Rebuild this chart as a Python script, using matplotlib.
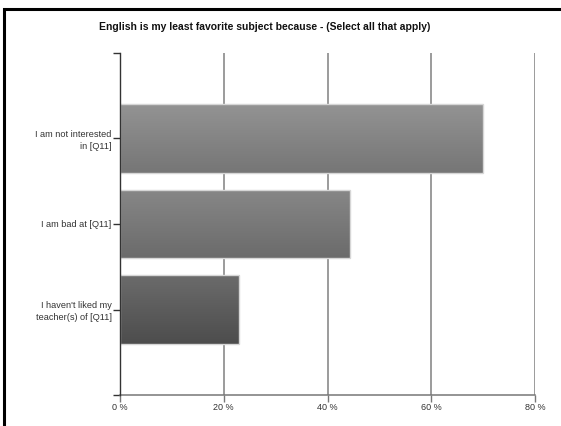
import numpy as np
import matplotlib
matplotlib.use("Agg")
import matplotlib.pyplot as plt
from matplotlib.patches import Rectangle
from matplotlib.colors import LinearSegmentedColormap

plt.rcParams['font.family'] = ['Liberation Sans', 'DejaVu Sans']

# Survey responses (percent of respondents)
categories = ["I am not interested\nin [Q11]",
              "I am bad at [Q11]",
              "I haven't liked my\nteacher(s) of [Q11]"]
values = [69.9, 44.3, 23.0]
# top / bottom shade of each bar's vertical gradient
bar_shades = [("#939393", "#767676"),
              ("#878787", "#6b6b6b"),
              ("#6b6b6b", "#4d4d4d")]
xticks = [0, 20, 40, 60, 80]
xticklabels = ["0 %", "20 %", "40 %", "60 %", "80 %"]
title = "English is my least favorite subject because - (Select all that apply)"

W, H = 561, 426
fig = plt.figure(figsize=(W / 100, H / 100), dpi=100)

# outer frame of the chart box
fig.patches.append(Rectangle((4 / W, -0.1), 1.2, 1.1 - 9.5 / H, transform=fig.transFigure,
                             fill=False, edgecolor="black", linewidth=2.2))

ax = fig.add_axes([120 / W, (H - 395) / H, (535 - 120) / W, (395 - 53) / H])

pos = np.arange(len(categories))
bars = ax.barh(pos, values, height=0.8, color="none", edgecolor="#d6d6d6",
               linewidth=1.0, zorder=3)

for rect, (top, bot) in zip(bars, bar_shades):
    cmap = LinearSegmentedColormap.from_list("g", [top, bot])
    x0, y0 = rect.get_x(), rect.get_y()
    w, h = rect.get_width(), rect.get_height()
    grad = np.linspace(0, 1, 64).reshape(-1, 1)
    im = ax.imshow(grad, cmap=cmap, aspect="auto", interpolation="bicubic",
                   extent=(x0, x0 + w, y0 + h, y0), zorder=2)
    im.set_clip_path(rect)

ax.set_xlim(0, 80)
ax.set_ylim(3, -1)

ax.set_xticks(xticks)
ax.set_xticklabels(xticklabels, fontsize=6.5, color="#333333")
ax.set_yticks(pos)
ax.set_yticklabels(categories, fontsize=6.6, color="#333333", linespacing=1.3)
ax.set_yticks([-1, 3], minor=True)

ax.tick_params(axis="x", length=5, width=1, color="#777777", pad=1)
ax.tick_params(axis="y", which="both", length=5, width=1, color="#333333", pad=1)

for g in xticks[1:]:
    ax.axvline(g, color="#808080", linewidth=1.1, zorder=1)

for s in ["top", "right"]:
    ax.spines[s].set_visible(False)
ax.spines["left"].set_color("#333333")
ax.spines["left"].set_linewidth(1.0)
ax.spines["left"].set_zorder(4)
ax.spines["bottom"].set_color("#777777")
ax.spines["bottom"].set_linewidth(1.1)

fig.text(265 / W, 1 - 27 / H, title, ha="center", va="center",
         fontsize=7.5, fontweight="bold", color="#111111")

fig.savefig("out.png", dpi=100)
